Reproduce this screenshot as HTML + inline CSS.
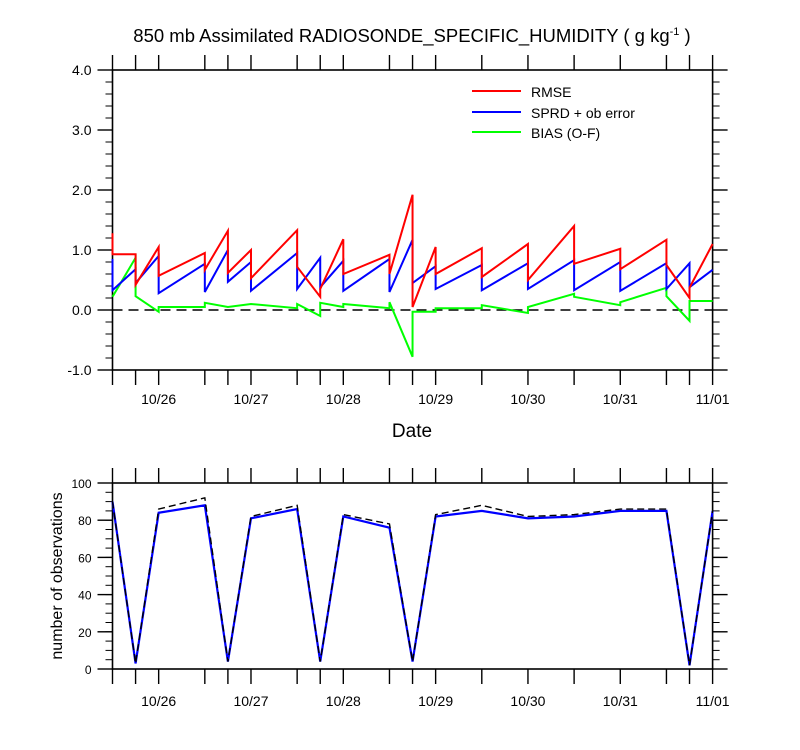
<!DOCTYPE html>
<html><head><meta charset="utf-8"><style>
body{margin:0;background:#fff;}
svg{display:block;font-family:"Liberation Sans",sans-serif;}
</style></head><body>
<svg id="c" width="800" height="750" viewBox="0 0 800 750">
<text x="412" y="42" text-anchor="middle" font-size="18.5">850 mb Assimilated RADIOSONDE_SPECIFIC_HUMIDITY ( g kg<tspan dy="-7" font-size="11">-1</tspan><tspan dy="7"> )</tspan></text>
<text x="412" y="437" text-anchor="middle" font-size="19">Date</text>
<text transform="translate(62,576) rotate(-90)" text-anchor="middle" font-size="16">number of observations</text>
<g>
<line x1="472" y1="91" x2="521" y2="91" stroke="#f00" stroke-width="2"/>
<text x="531" y="97" font-size="14">RMSE</text>
<line x1="472" y1="112" x2="521" y2="112" stroke="#00f" stroke-width="2"/>
<text x="531" y="118" font-size="14">SPRD + ob error</text>
<line x1="472" y1="132" x2="521" y2="132" stroke="#0f0" stroke-width="2"/>
<text x="531" y="138" font-size="14">BIAS (O-F)</text>
</g>
</svg>
<script>
// hours since 10/25 12Z
const times=[0,6,12,24,30,36,48,54,60,72,78,84,96,108,120,132,144,150,156];
const dayLabels=["10/26","10/27","10/28","10/29","10/30","10/31","11/01"];
const dayHours=[12,36,60,84,108,132,156];
const rmseA=[1.28,0.93,1.05,0.95,1.32,1.0,1.33,0.22,1.18,0.92,1.92,1.05,1.03,1.1,1.4,1.02,1.17,0.2,1.1];
const rmseB=[0.93,0.42,0.57,0.67,0.62,0.53,0.72,0.35,0.6,0.6,0.05,0.6,0.55,0.5,0.77,0.68,0.75,0.37,1.1];
const sprdA=[0.85,0.68,0.9,0.77,1.0,0.8,0.95,0.87,0.82,0.85,1.17,0.73,0.75,0.78,0.83,0.8,0.78,0.78,0.67];
const sprdB=[0.33,0.45,0.28,0.3,0.47,0.32,0.35,0.38,0.32,0.3,0.45,0.35,0.33,0.35,0.33,0.32,0.35,0.38,0.67];
const biasA=[0.22,0.87,-0.03,0.05,0.05,0.1,0.03,-0.1,0.05,0.03,-0.78,-0.03,0.03,-0.05,0.27,0.08,0.37,-0.18,0.15];
const biasB=[0.22,0.23,0.05,0.12,0.05,0.1,0.1,0.12,0.1,0.13,-0.03,0.03,0.08,0.05,0.22,0.13,0.23,0.15,0.15];
const obsUsed=[90,3,84,88,4,81,86,4,82,76,4,82,85,81,82,85,85,2,85];
const obsPossible=[90,3,86,92,4,82,88,4,83,78,4,83,88,82,83,86,86,2,85];
const topTicks=["-1.0","0.0","1.0","2.0","3.0","4.0"];
const topTickVals=[-1,0,1,2,3,4];
const botTicks=["0","20","40","60","80","100"];
const botTickVals=[0,20,40,60,80,100];

const NS="http://www.w3.org/2000/svg";
const svg=document.getElementById('c');
const L=112.5,R=712.6;
const x=t=>L+(R-L)*t/156;
const yTop=v=>310-60*v;
const yBot=v=>669-1.86*v;
function mk(tag,attrs,parent){const e=document.createElementNS(NS,tag);for(const k in attrs)e.setAttribute(k,attrs[k]);(parent||svg).appendChild(e);return e;}

function frame(T,B,yf,vals,labels,minorStep,lo,hi,name,xlabY){
  const g=mk('g',{});
  
  
  mk('rect',{x:L,y:T,width:R-L,height:B-T,fill:'none',stroke:'#000','stroke-width':1.6},g);
  times.forEach(t=>{
    mk('line',{x1:x(t),y1:T,x2:x(t),y2:T-15,stroke:'#000','stroke-width':1.4},g);
    mk('line',{x1:x(t),y1:B,x2:x(t),y2:B+15,stroke:'#000','stroke-width':1.4},g);
  });
  dayHours.forEach((h,i)=>{
    const tx=mk('text',{x:x(h),y:xlabY,'text-anchor':'middle','font-size':14},g);
    tx.textContent=dayLabels[i];
    
    
  });
  for(let v=lo;v<=hi+1e-9;v+=minorStep){
    const yy=yf(v);
    mk('line',{x1:L,y1:yy,x2:L-7,y2:yy,stroke:'#000','stroke-width':1},g);
    mk('line',{x1:R,y1:yy,x2:R+7,y2:yy,stroke:'#000','stroke-width':1},g);
  }
  vals.forEach((v,i)=>{
    const yy=yf(v);
    mk('line',{x1:L,y1:yy,x2:L-15,y2:yy,stroke:'#000','stroke-width':1.4},g);
    mk('line',{x1:R,y1:yy,x2:R+15,y2:yy,stroke:'#000','stroke-width':1.4},g);
    const tx=mk('text',{x:L-21,y:yy+5,'text-anchor':'end','font-size':name==='top'?14:12},g);
    tx.textContent=labels[i];
    
    
  });
}
frame(70,370,yTop,topTickVals,topTicks,0.2,-1,4,'top',404);
frame(483,669,yBot,botTickVals,botTicks,5,0,100,'bottom',706);

const zl=mk('line',{x1:L,y1:yTop(0),x2:R,y2:yTop(0),stroke:'#000','stroke-width':1.6,'stroke-dasharray':'10 6'});



function saw(a,b,color,name){
  let d='';
  times.forEach((t,i)=>{d+=(i?'L':'M')+x(t)+','+yTop(a[i])+'L'+x(t)+','+yTop(b[i]);});
  const p=mk('path',{d:d,fill:'none',stroke:color,'stroke-width':2});
  
  
}
saw(biasA,biasB,'#0f0','bias-line');
saw(sprdA,sprdB,'#00f','sprd-line');
saw(rmseA,rmseB,'#f00','rmse-line');

function line(vals,color,dash,name,w){
  const d=vals.map((v,i)=>(i?'L':'M')+x(times[i])+','+yBot(v)).join('');
  const p=mk('path',{d:d,fill:'none',stroke:color,'stroke-width':w});
  if(dash)p.setAttribute('stroke-dasharray',dash);
  
  
}
line(obsUsed,'#00f',null,'obs-used-line',2.2);
line(obsPossible,'#000','7 4','obs-possible-line',1.4);
</script>
</body></html>
